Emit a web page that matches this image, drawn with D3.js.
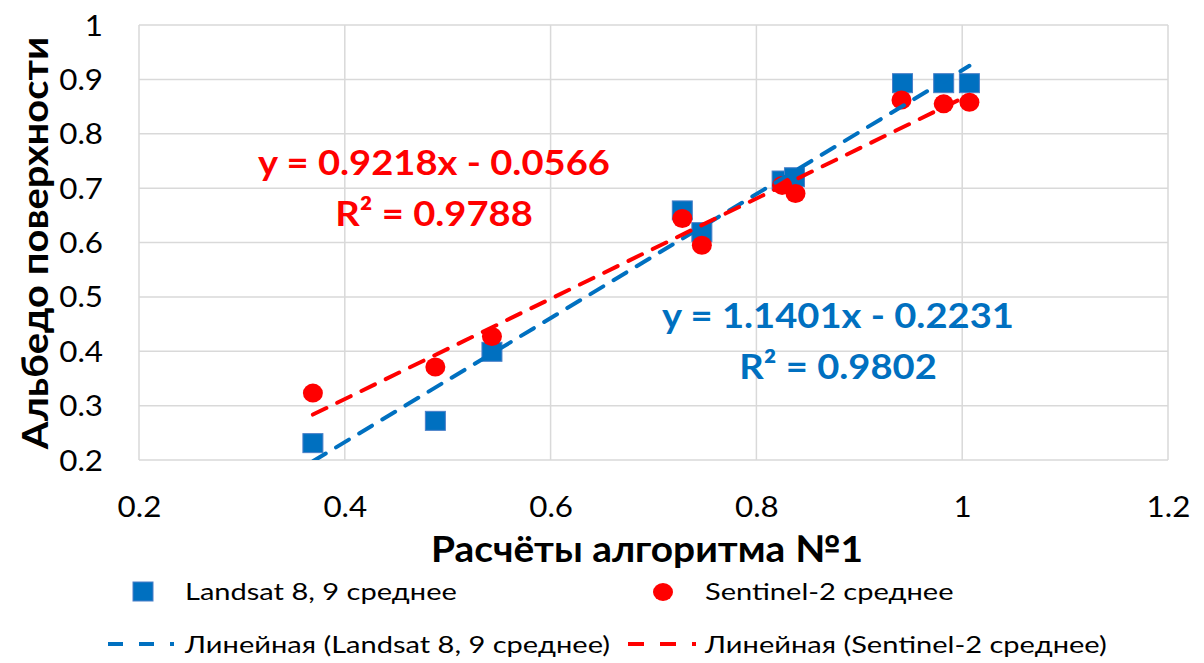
<!DOCTYPE html>
<html>
<head>
<meta charset="utf-8">
<script src="https://cdn.jsdelivr.net/npm/d3@7"></script>
<style>
  body { margin: 0; background: #fff; }
  text { font-family: Lato, "Open Sans", sans-serif; }
</style>
</head>
<body>
<div id="chart"></div>
<script>
// data
var landsatX = [0.369, 0.488, 0.543, 0.728, 0.747, 0.825, 0.837, 0.942, 0.982, 1.007];
var landsatY = [0.231, 0.272, 0.399, 0.659, 0.619, 0.714, 0.720, 0.893, 0.893, 0.893];
var sentinelX = [0.369, 0.488, 0.543, 0.728, 0.747, 0.825, 0.838, 0.941, 0.982, 1.007];
var sentinelY = [0.323, 0.371, 0.427, 0.644, 0.595, 0.705, 0.690, 0.862, 0.855, 0.858];
// trend line coefficients as printed on the chart
var landsatFit = { slope: 1.1401, intercept: -0.2231, label: "y = 1.1401x - 0.2231", r2: "R² = 0.9802" };
var sentinelFit = { slope: 0.9218, intercept: -0.0566, label: "y = 0.9218x - 0.0566", r2: "R² = 0.9788" };
var xTicks = [0.2, 0.4, 0.6, 0.8, 1, 1.2];
var yTicks = [0.2, 0.3, 0.4, 0.5, 0.6, 0.7, 0.8, 0.9, 1];

var blue = "#0070C0", red = "#FF0000";
var svgWidth = 1204, svgHeight = 663;
var margin = { top: 25, right: 36, bottom: 203, left: 139 };
var chartWidth = svgWidth - margin.left - margin.right;
var chartHeight = svgHeight - margin.top - margin.bottom;

var svg = d3.select("#chart").append("svg")
  .attr("width", svgWidth)
  .attr("height", svgHeight);

// text with a slight horizontal stretch (the original looks widened)
function label(g, x, y, str, size, k) {
  return g.append("text")
    .attr("transform", `translate(${x},${y}) scale(${k},1)`)
    .attr("font-size", size)
    .text(str);
}

var chartGroup = svg.append("g")
  .attr("transform", `translate(${margin.left}, ${margin.top})`);

var xScale = d3.scaleLinear().domain([0.2, 1.2]).range([0, chartWidth]);
var yScale = d3.scaleLinear().domain([0.2, 1]).range([chartHeight, 0]);

// gridlines
chartGroup.append("g").selectAll("line").data(yTicks).enter().append("line")
  .attr("x1", 0).attr("x2", chartWidth)
  .attr("y1", d => yScale(d)).attr("y2", d => yScale(d))
  .attr("stroke", "#d9d9d9").attr("stroke-width", 1.5);
chartGroup.append("g").selectAll("line").data(xTicks).enter().append("line")
  .attr("y1", 0).attr("y2", chartHeight)
  .attr("x1", d => xScale(d)).attr("x2", d => xScale(d))
  .attr("stroke", "#d9d9d9").attr("stroke-width", 1.5);

// axes (labels only)
var tickK = 1.12;
var xAxis = d3.axisBottom(xScale).tickValues(xTicks).tickSize(0).tickFormat(d3.format("~g"));
var yAxis = d3.axisLeft(yScale).tickValues(yTicks).tickSize(0).tickFormat(d3.format("~g"));
var gx = chartGroup.append("g").attr("transform", `translate(0,${chartHeight})`).call(xAxis);
var gy = chartGroup.append("g").call(yAxis);
[gx, gy].forEach(function(g) {
  g.select(".domain").remove();
  g.selectAll("text").attr("font-size", 28).attr("fill", "#000")
    .attr("font-family", "Lato, sans-serif")
    .attr("transform", `scale(${tickK},1)`);
});
gx.selectAll("text").attr("y", 57).attr("dy", 0);
gy.selectAll("text").attr("x", -36 / tickK).attr("dy", "0.36em");

// clip for trend lines
svg.append("defs").append("clipPath").attr("id", "plotclip")
  .append("rect").attr("width", chartWidth).attr("height", chartHeight);

var lineGen = d3.line().x(d => xScale(d[0])).y(d => yScale(d[1]));
function trend(xs, fit) {
  var x0 = d3.min(xs), x1 = d3.max(xs);
  return [[x0, fit.slope * x0 + fit.intercept], [x1, fit.slope * x1 + fit.intercept]];
}

// markers
chartGroup.selectAll(".sq").data(d3.range(landsatX.length)).enter().append("rect")
  .attr("x", i => xScale(landsatX[i]) - 10)
  .attr("y", i => yScale(landsatY[i]) - 9.5)
  .attr("width", 20).attr("height", 19)
  .attr("fill", blue).attr("stroke", "#4a7fc8").attr("stroke-width", 1);

chartGroup.selectAll(".dot").data(d3.range(sentinelX.length)).enter().append("ellipse")
  .attr("cx", i => xScale(sentinelX[i]))
  .attr("cy", i => yScale(sentinelY[i]))
  .attr("rx", 10).attr("ry", 9.5)
  .attr("fill", red);

// trend lines
var trends = chartGroup.append("g").attr("clip-path", "url(#plotclip)");
trends.append("path").datum(trend(landsatX, landsatFit))
  .attr("d", lineGen).attr("fill", "none").attr("stroke", blue)
  .attr("stroke-width", 4).attr("stroke-dasharray", "15,12").attr("stroke-linecap", "round");
trends.append("path").datum(trend(sentinelX, sentinelFit))
  .attr("d", lineGen).attr("fill", "none").attr("stroke", red)
  .attr("stroke-width", 4).attr("stroke-dasharray", "15,12").attr("stroke-linecap", "round");

// equation labels
var eq = svg.append("g").attr("font-weight", "bold").attr("text-anchor", "middle");
label(eq, 434, 175, sentinelFit.label, 35, 1.09).attr("fill", red);
label(eq, 434, 226, sentinelFit.r2, 35, 1.09).attr("fill", red);
label(eq, 838, 328, landsatFit.label, 35, 1.09).attr("fill", blue);
label(eq, 838, 379, landsatFit.r2, 35, 1.09).attr("fill", blue);

// axis titles
var titles = svg.append("g").attr("font-weight", "bold").attr("text-anchor", "middle");
label(titles, 647, 562, "Расчёты алгоритма №1", 37, 1.05);
titles.append("text").attr("transform", "translate(48,243) rotate(-90) scale(1.08,1)")
  .attr("font-size", 37).text("Альбедо поверхности");

// legend
var legend = svg.append("g");
var legK = 1.21;
legend.append("rect").attr("x", 133).attr("y", 582).attr("width", 20).attr("height", 19)
  .attr("fill", blue).attr("stroke", "#4a7fc8");
label(legend, 185, 600, "Landsat 8, 9 среднее", 24, legK);
legend.append("ellipse").attr("cx", 663).attr("cy", 592).attr("rx", 10).attr("ry", 9)
  .attr("fill", red);
label(legend, 705, 600, "Sentinel-2 среднее", 24, legK);

legend.append("line").attr("x1", 108).attr("x2", 174).attr("y1", 644).attr("y2", 644)
  .attr("stroke", blue).attr("stroke-width", 4).attr("stroke-dasharray", "15,16");
label(legend, 185, 653, "Линейная (Landsat 8, 9 среднее)", 24, legK);
legend.append("line").attr("x1", 628).attr("x2", 696).attr("y1", 644).attr("y2", 644)
  .attr("stroke", red).attr("stroke-width", 4).attr("stroke-dasharray", "16,16");
label(legend, 705, 653, "Линейная (Sentinel-2 среднее)", 24, legK);
</script>
</body>
</html>
